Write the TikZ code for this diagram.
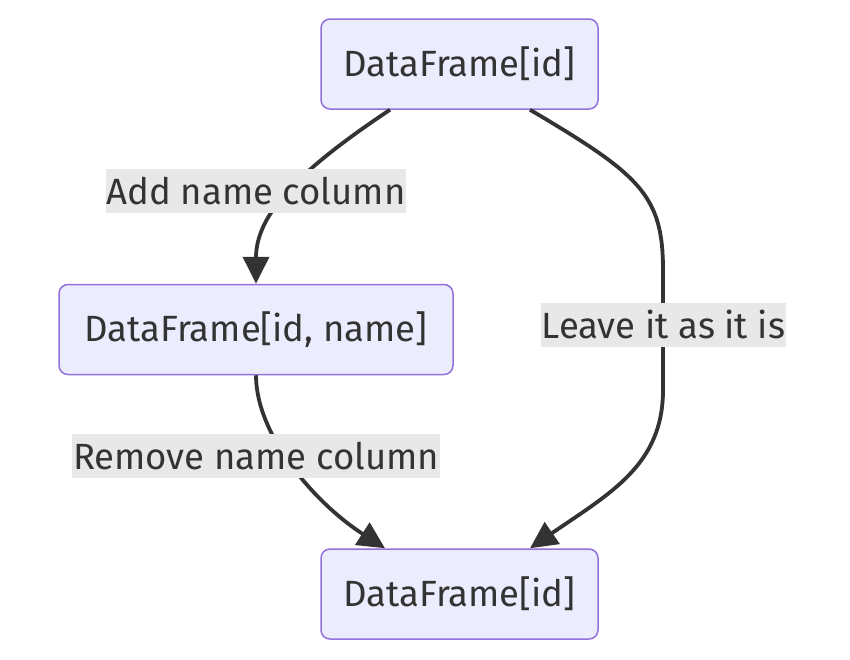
\documentclass[tikz,border=0pt]{standalone}
\usepackage{fontspec}
\setmainfont{Fira Sans}
\usetikzlibrary{arrows.meta,calc}
\definecolor{nodefill}{HTML}{ECECFF}
\definecolor{nodeborder}{HTML}{9370DB}
\definecolor{edgecol}{HTML}{333333}
\definecolor{labelbg}{HTML}{E8E8E8}
\definecolor{textcol}{HTML}{333333}
\tikzset{
  box/.style={draw=nodeborder, fill=nodefill, line width=1.5pt, rounded corners=9pt,
    minimum height=90pt, inner sep=0pt, text=textcol, font=\fontsize{36.5}{43}\selectfont},
  edgelabel/.style={fill=labelbg, inner sep=1pt, text=textcol, minimum height=44pt,
    font=\fontsize{36.5}{43}\selectfont},
  flow/.style={draw=edgecol, line width=3.8pt, -{Triangle[length=27pt,width=26pt]}},
}
\begin{document}
\begin{tikzpicture}[x=1pt,y=-1pt]
\useasboundingbox (0,0) rectangle (850,659);
\node[box, minimum width=277pt] (top) at (459.5,64) {DataFrame[id]};
\node[box, minimum width=394pt] (mid) at (256,329.5) {DataFrame[id, name]};
\node[box, minimum width=277pt] (bot) at (459.5,594) {DataFrame[id]};

\draw[flow] ([xshift=-69.5pt]top.south) .. controls +(-90,60) and +(0,-70) .. (mid.north);
\draw[flow] ([xshift=70.5pt]top.south) .. controls +(110,65) and +(0,-75) .. (663,270)
  -- (663,390) .. controls +(0,75) and +(80,-55) .. ([xshift=70.5pt]bot.north);
\draw[flow] (mid.south) .. controls +(0,60) and +(-70,-45) .. ([xshift=-74.5pt]bot.north);

\node[edgelabel] (l1) at (256,191) {Add name column};
\node[edgelabel] (l2) at (663.5,324.5) {Leave it as it is};
\node[edgelabel] (l3) at (256,456) {Remove name column};
\end{tikzpicture}
\end{document}
